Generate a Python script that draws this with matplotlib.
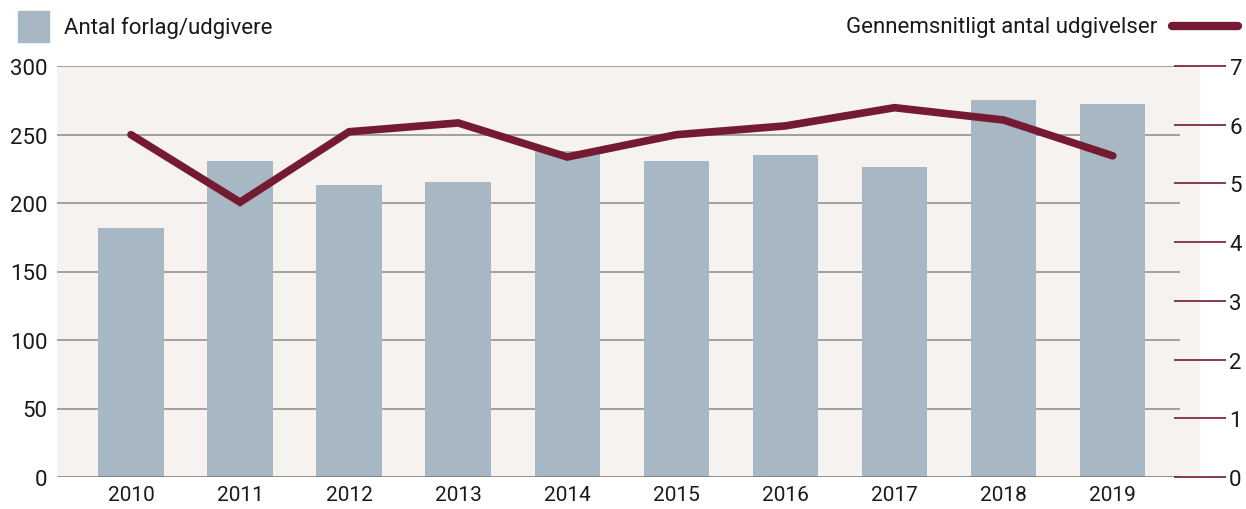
import matplotlib.pyplot as plt
from matplotlib.patches import Rectangle
from matplotlib.lines import Line2D

plt.rcParams['font.family'] = ['Roboto', 'DejaVu Sans']

years = ['2010', '2011', '2012', '2013', '2014', '2015', '2016', '2017', '2018', '2019']
publishers = [182, 231, 213, 215, 238, 231, 235, 226, 275, 272]
avg_releases = [5.83, 4.68, 5.88, 6.03, 5.45, 5.83, 5.98, 6.29, 6.08, 5.47]

BAR = '#a7b7c3'
LINE = '#751a33'
BG = '#f5f2ef'
GRID = '#9a9a9a'

W, H = 1246, 510
fig = plt.figure(figsize=(W / 100, H / 100), dpi=100)
ax = fig.add_axes([57 / W, 1 - 478 / H, (1200 - 57) / W, (478 - 67) / H])
ax.set_facecolor(BG)

x = list(range(len(years)))
ax.set_xlim(-0.678, 9.80)
ax.set_ylim(0, 300)

# gridlines stop short of the right edge of the background
yt = [0, 50, 100, 150, 200, 250, 300]
ax.hlines(yt[1:], -0.678, 9.615, color=GRID, lw=1.3, zorder=1)
ax.hlines(0, -0.678, 9.615, color='#777777', lw=1.8, zorder=4)
ax.bar(x, publishers, width=0.6, color=BAR, zorder=2)

ax.set_yticks(yt)
ax.set_xticks(x)
ax.set_xticklabels(years)
ax.tick_params(axis='both', length=0, labelsize=15, colors='#1a1a1a', pad=6)
ax.tick_params(axis='y', labelsize=16, pad=7)
for s in ax.spines.values():
    s.set_visible(False)

ax2 = ax.twinx()
ax2.set_ylim(0, 7)
ax2.set_yticks(range(8))
ax2.plot(x, avg_releases, color=LINE, lw=5.5, solid_capstyle='round',
         solid_joinstyle='miter', zorder=5)
ax2.tick_params(axis='y', direction='inout', length=38, width=1.2, color=LINE,
                labelsize=16, labelcolor='#1a1a1a', pad=2)
for s in ax2.spines.values():
    s.set_visible(False)

# legend entries
fig.patches.append(Rectangle((18 / W, 1 - 43 / H), 31 / W, 31 / H,
                             transform=fig.transFigure, color=BAR))
fig.text(64 / W, 1 - 28 / H, 'Antal forlag/udgivere', fontsize=16,
         va='center', ha='left', color='#1a1a1a')
fig.text(1157 / W, 1 - 28 / H, 'Gennemsnitligt antal udgivelser', fontsize=16,
         va='center', ha='right', color='#1a1a1a')
fig.lines.append(Line2D([1172 / W, 1238 / W], [1 - 27 / H, 1 - 27 / H],
                        transform=fig.transFigure, color=LINE, lw=6,
                        solid_capstyle='round'))

fig.savefig('out.png', dpi=100)
